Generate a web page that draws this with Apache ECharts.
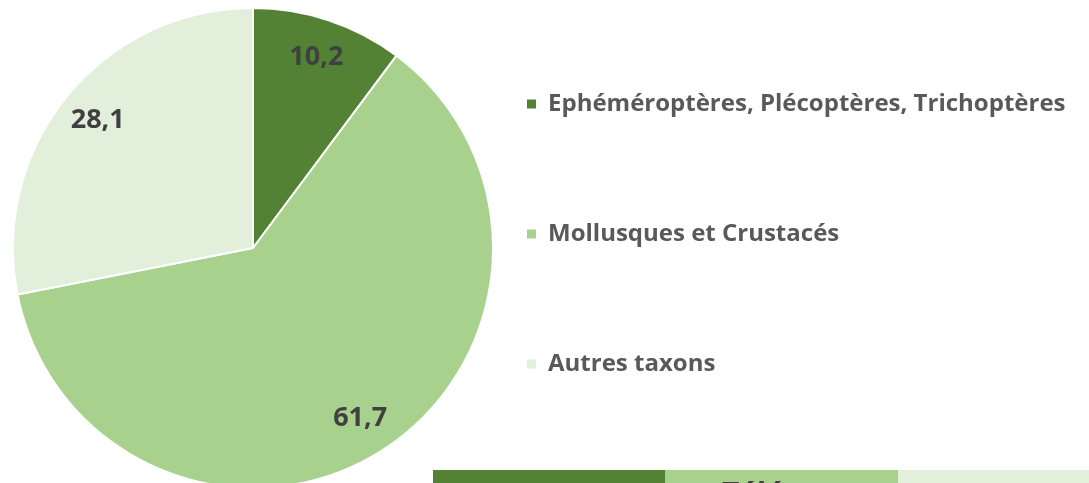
<!DOCTYPE html>
<html>
<head>
<meta charset="utf-8">
<script src="https://cdn.jsdelivr.net/npm/echarts@6/dist/echarts.min.js"></script>
<style>
  html, body { margin: 0; padding: 0; background: #ffffff; }
  #chart { width: 1089px; height: 483px; }
</style>
</head>
<body>
<div id="chart"></div>
<script>
// Shares of macroinvertebrate groups (%)
const categories = [
  'Ephéméroptères, Plécoptères, Trichoptères',
  'Mollusques et Crustacés',
  'Autres taxons'
];
const values = [10.2, 61.7, 28.1];
const colors = ['#548235', '#A9D18E', '#E2EFDA'];

// Strip of the next block, only its top edge is visible
const stripColors = ['#548235', '#A9D18E', '#E2EFDA'];
const stripTitle = 'Télé';

const fmt = v => String(v).replace('.', ',');
const FONT = '"Open Sans", "Noto Sans", sans-serif';

const data = categories.map((name, i) => ({
  name: name,
  value: values[i],
  itemStyle: { color: colors[i] }
}));

const chart = echarts.init(document.getElementById('chart'), null, { renderer: 'canvas' });

const center = [253, 248];
const R = 240;

chart.setOption({
  animation: false,
  backgroundColor: '#ffffff',
  legend: {
    orient: 'vertical',
    left: 525,
    top: 91,
    padding: 0,
    itemWidth: 11,
    itemHeight: 11,
    itemGap: 104,
    icon: 'rect',
    textStyle: {
      fontFamily: FONT,
      fontWeight: 'bold',
      fontSize: 24,
      color: '#595959',
      lineHeight: 26,
      padding: [0, 0, 0, 6]
    },
    data: categories
  },
  series: [
    {
      type: 'pie',
      center: center,
      radius: [0, R],
      startAngle: 90,
      clockwise: true,
      silent: true,
      label: { show: false },
      labelLine: { show: false },
      itemStyle: { borderColor: '#ffffff', borderWidth: 2 },
      data: data
    },
    {
      // Ring used only to place value labels near the outer edge
      type: 'pie',
      center: center,
      radius: [156, R],
      startAngle: 90,
      clockwise: true,
      silent: true,
      legendHoverLink: false,
      itemStyle: { color: 'rgba(0,0,0,0)', borderWidth: 0 },
      label: {
        show: true,
        position: 'inside',
        formatter: p => fmt(p.value),
        fontFamily: FONT,
        fontWeight: 'bold',
        fontSize: 27,
        color: '#404040'
      },
      labelLine: { show: false },
      data: categories.map((name, i) => ({ name: name + ' ', value: values[i] }))
    }
  ],
  graphic: [
    { type: 'rect', shape: { x: 433, y: 470, width: 232, height: 20 }, style: { fill: stripColors[0] } },
    { type: 'rect', shape: { x: 665, y: 470, width: 233, height: 20 }, style: { fill: stripColors[1] } },
    { type: 'rect', shape: { x: 898, y: 470, width: 191, height: 20 }, style: { fill: stripColors[2] } },
    {
      type: 'text', left: 722, top: 480,
      style: { text: stripTitle, font: 'bold 30px ' + FONT, fill: '#404040' }
    }
  ]
});
</script>
</body>
</html>
